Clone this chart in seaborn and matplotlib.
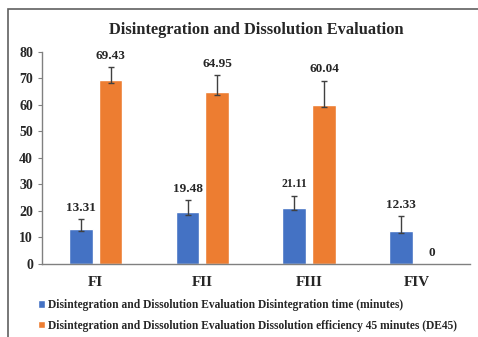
import matplotlib
matplotlib.use("Agg")
import matplotlib.pyplot as plt
import seaborn as sns
import numpy as np
import pandas as pd
from matplotlib.patches import Rectangle

# Datos
formulas = ["FI", "FII", "FIII", "FIV"]
series = [
    "Disintegration and Dissolution Evaluation Disintegration time (minutes)",
    "Disintegration and Dissolution Evaluation Dissolution efficiency 45 minutes (DE45)",
]
disintegration = [13.31, 19.48, 21.11, 12.33]
dissolution = [69.43, 64.95, 60.04, 0]
err_low_dis = [0.9, 1.0, 0.6, 0.6]
err_up_dis = [3.7, 4.6, 4.6, 5.8]
err_low_sol = [1.0, 1.2, 1.0, 0.0]
err_up_sol = [4.9, 6.3, 9.1, 0.0]

colors = ["#4472C4", "#ED7D31"]

df = pd.DataFrame({
    "formula": formulas * 2,
    "serie": [series[0]] * 4 + [series[1]] * 4,
    "valor": disintegration + dissolution,
})

sns.set_style("white")
plt.rcParams["font.family"] = ["Liberation Serif", "DejaVu Serif"]
plt.rcParams["font.weight"] = "bold"

fig = plt.figure(figsize=(4.78, 3.37), dpi=100)
ax = fig.add_axes([0.088, 0.217, 0.895, 0.629])

sns.barplot(data=df, x="formula", y="valor", hue="serie", order=formulas,
            hue_order=series, palette=colors, width=0.56, gap=0.2,
            saturation=1, errorbar=None, ax=ax, legend=True)

lows = err_low_dis + err_low_sol
ups = err_up_dis + err_up_sol
vals = disintegration + dissolution
bars = [p for p in ax.patches if isinstance(p, Rectangle)][:8]
for k, p in enumerate(bars):
    xc = p.get_x() + p.get_width() / 2
    v = vals[k]
    if ups[k] > 0:
        ax.errorbar(xc, v, yerr=[[lows[k]], [ups[k]]], fmt="none",
                    ecolor="#404040", elinewidth=1, capsize=2, capthick=1)
    lbl = f"{v:.2f}" if v else "0"
    fs = 8.5 if k == 2 else 9.5
    ax.text(xc, v + ups[k] + 2.0, lbl, ha="center", va="bottom",
            fontsize=fs, fontweight="bold")

ax.set_ylim(0, 80)
ax.set_xlim(-0.5, 3.5)
ax.set_yticks(range(0, 81, 10))
ax.set_xlabel("")
ax.set_ylabel("")
ax.tick_params(axis="y", labelsize=10, length=3, left=True, color="#808080")
ax.tick_params(axis="x", labelsize=11, length=0, pad=9)
for lab in ax.get_xticklabels() + ax.get_yticklabels():
    lab.set_fontweight("bold")
for s in ["top", "right"]:
    ax.spines[s].set_visible(False)
for s in ["left", "bottom"]:
    ax.spines[s].set_color("#808080")
    ax.spines[s].set_linewidth(1)

ax.set_title("Disintegration and Dissolution Evaluation", fontsize=11.8,
             fontweight="bold", pad=13)

handles, labels = ax.get_legend_handles_labels()
ax.get_legend().remove()
fig.legend(handles, labels, loc="lower left", bbox_to_anchor=(0.058, -0.015),
           frameon=False, prop={"size": 8.3, "weight": "bold"},
           handlelength=0.6, handleheight=0.6, handletextpad=0.3,
           labelspacing=0.75)

# Marco exterior
fig.patches.append(Rectangle((8 / 478, -0.1), 1.1, 1 - 9 / 337 + 0.1,
                             transform=fig.transFigure, fill=False,
                             edgecolor="#606060", linewidth=1.2))

fig.savefig("out.png", dpi=100)
